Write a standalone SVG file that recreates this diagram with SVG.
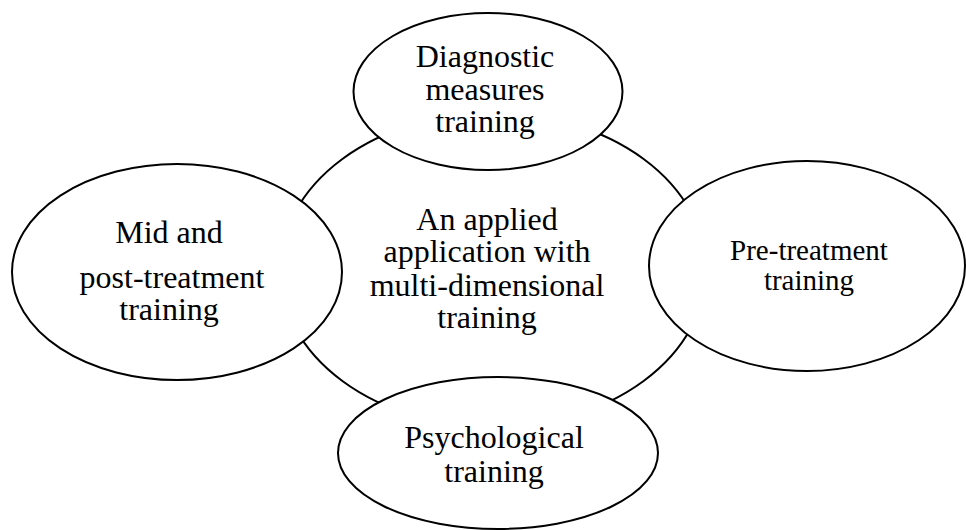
<svg xmlns="http://www.w3.org/2000/svg" width="966" height="530" viewBox="0 0 966 530">
<style>
.n{fill:#fff;stroke:#000;stroke-width:2}
.t{font-family:"Liberation Serif","Times New Roman",serif;font-size:32px;fill:#000;text-anchor:middle}
.s{font-size:29px}
</style>
<rect width="966" height="530" fill="#fff"/>
<g id="connectors"></g>
<g id="center">
<ellipse class="n" cx="493" cy="270" rx="213" ry="157"/>
<text class="t" x="487" y="230">An applied</text>
<text class="t" x="487" y="262">application with</text>
<text class="t" x="487" y="296">multi-dimensional</text>
<text class="t" x="487" y="328">training</text>
</g>
<g id="top">
<ellipse class="n" cx="488" cy="91.5" rx="134.5" ry="78.5"/>
<text class="t" x="485" y="67">Diagnostic</text>
<text class="t" x="485" y="100">measures</text>
<text class="t" x="485" y="132">training</text>
</g>
<g id="left">
<ellipse class="n" cx="177" cy="272" rx="165" ry="108"/>
<text class="t" x="169" y="243">Mid and</text>
<text class="t" x="172" y="288">post-treatment</text>
<text class="t" x="169" y="320">training</text>
</g>
<g id="right">
<ellipse class="n" cx="807" cy="266" rx="158" ry="105"/>
<text class="t s" x="809" y="260">Pre-treatment</text>
<text class="t s" x="809" y="290">training</text>
</g>
<g id="bottom">
<ellipse class="n" cx="498" cy="453" rx="160" ry="76"/>
<text class="t" x="494" y="448">Psychological</text>
<text class="t" x="494" y="482">training</text>
</g>
</svg>
